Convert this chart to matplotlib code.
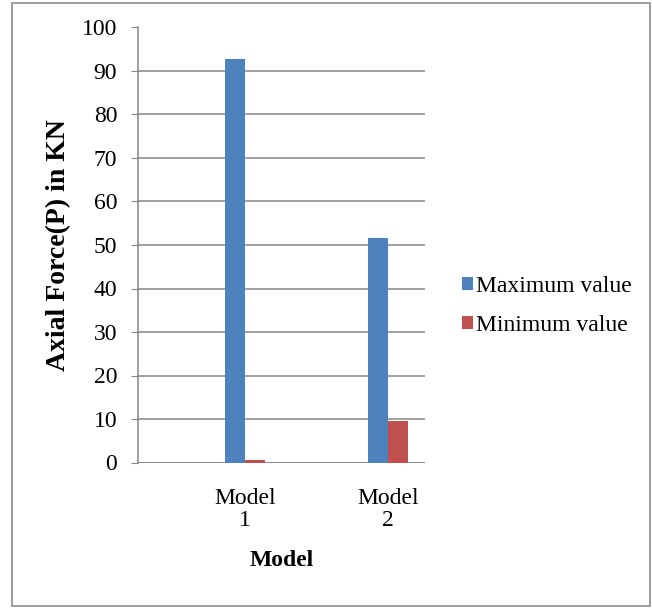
import numpy as np
import matplotlib.pyplot as plt
from matplotlib.patches import Rectangle

# axial force per model, kN
models = ["Model\n1", "Model\n2"]
max_force = [92.7, 51.6]
min_force = [0.6, 9.5]
series_names = ["Maximum value", "Minimum value"]
yticks = list(range(0, 101, 10))

plt.rcParams['font.family'] = ['Liberation Serif', 'DejaVu Serif']

W, H = 652, 608
fig = plt.figure(figsize=(W / 100, H / 100), dpi=100)
ax = fig.add_axes([138 / W, 1 - 462.5 / H, (425 - 138) / W, (462.5 - 27.5) / H])

x = np.arange(len(models))
w = 0.143
ax.bar(x - w / 2, max_force, w, color='#4F81BD', label=series_names[0], zorder=3)
ax.bar(x + w / 2, min_force, w, color='#C0504D', label=series_names[1], zorder=3)

ax.set_xlim(-0.748, 1.259)
ax.set_ylim(0, 100)
ax.set_yticks(yticks)
ax.set_xticks(x)
ax.set_xticklabels(models, fontsize=17, linespacing=1.05)
ax.tick_params(axis='y', labelsize=17, length=5, color='#868686', pad=10)
ax.tick_params(axis='x', length=0, pad=18.5)
ax.yaxis.grid(True, color='#868686', linewidth=1.1, zorder=0)

for side in ['top', 'right', 'bottom']:
    ax.spines[side].set_visible(False)
ax.spines['left'].set_color('#868686')
ax.spines['left'].set_linewidth(1.1)
ax.axhline(0, color='#868686', linewidth=1.1, zorder=2)

ax.set_ylabel("Axial Force(P) in KN", fontsize=20, fontweight='bold')
ax.yaxis.set_label_coords(-0.275, 0.5)
ax.yaxis.label.set_va('center')
ax.set_xlabel("Model", fontsize=17, fontweight='bold', va='top')
ax.xaxis.set_label_coords(0.5, -0.2)

ax.legend(loc='upper left', bbox_to_anchor=(462 / W, 1 - 276 / H), bbox_transform=fig.transFigure,
          frameon=False, fontsize=17, borderpad=0, borderaxespad=0,
          handlelength=0.46, handleheight=0.46, handletextpad=0.12, labelspacing=0.75)

# chart border
fig.patches.append(Rectangle((12 / W, 2 / H), 638 / W, 603 / H, transform=fig.transFigure,
                             fill=False, edgecolor='#8c8c8c', linewidth=1.2))

fig.savefig('out.png', dpi=100)
